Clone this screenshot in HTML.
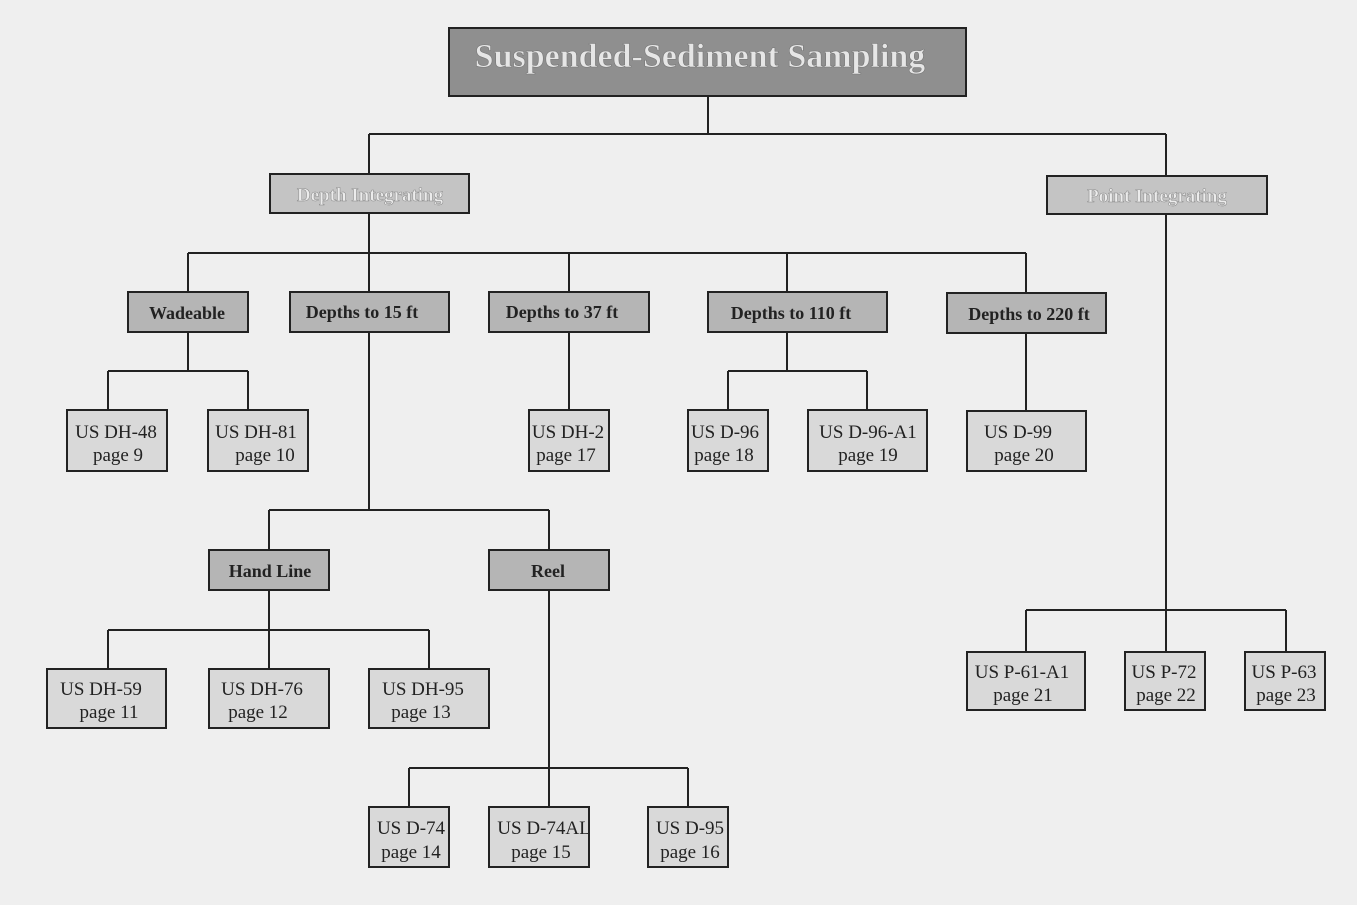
<!DOCTYPE html>
<html><head><meta charset="utf-8"><style>
html,body{margin:0;padding:0;background:#efefef;}
svg{display:block;}
text{font-family:"Liberation Serif",serif;text-anchor:middle;}
</style></head><body>
<svg width="1357" height="905" viewBox="0 0 1357 905" xmlns="http://www.w3.org/2000/svg">
<rect width="1357" height="905" fill="#efefef"/>
<g stroke="#222" stroke-width="2" fill="none">
<path d="M708 96V134M369 134H1166M369 134V174M1166 134V176"/>
<path d="M369 213V253M188 253H1026M188 253V292M369 253V292M569 253V292M787 253V292M1026 253V293"/>
<path d="M188 332V371M108 371H248M108 371V410M248 371V410"/>
<path d="M569 332V410"/>
<path d="M787 332V371M728 371H867M728 371V410M867 371V410"/>
<path d="M1026 333V411"/>
<path d="M369 332V510M269 510H549M269 510V550M549 510V550"/>
<path d="M269 590V630M108 630H429M108 630V669M269 630V669M429 630V669"/>
<path d="M549 590V768M409 768H688M409 768V807M549 768V807M688 768V807"/>
<path d="M1166 214V610M1026 610H1286M1026 610V652M1166 610V652M1286 610V652"/>
</g>
<g stroke="#222" stroke-width="2">
<rect x="449" y="28" width="517" height="68" fill="#8f8f8f"/>
<rect x="270" y="174" width="199" height="39" fill="#c4c4c4"/>
<rect x="1047" y="176" width="220" height="38" fill="#c4c4c4"/>
<g fill="#b5b5b5">
<rect x="128" y="292" width="120" height="40"/>
<rect x="290" y="292" width="159" height="40"/>
<rect x="489" y="292" width="160" height="40"/>
<rect x="708" y="292" width="179" height="40"/>
<rect x="947" y="293" width="159" height="40"/>
<rect x="209" y="550" width="120" height="40"/>
<rect x="489" y="550" width="120" height="40"/>
</g>
<g fill="#d9d9d9">
<rect x="67" y="410" width="100" height="61"/>
<rect x="208" y="410" width="100" height="61"/>
<rect x="529" y="410" width="80" height="61"/>
<rect x="688" y="410" width="80" height="61"/>
<rect x="808" y="410" width="119" height="61"/>
<rect x="967" y="411" width="119" height="60"/>
<rect x="47" y="669" width="119" height="59"/>
<rect x="209" y="669" width="120" height="59"/>
<rect x="369" y="669" width="120" height="59"/>
<rect x="369" y="807" width="80" height="60"/>
<rect x="489" y="807" width="100" height="60"/>
<rect x="648" y="807" width="80" height="60"/>
<rect x="967" y="652" width="118" height="58"/>
<rect x="1125" y="652" width="80" height="58"/>
<rect x="1245" y="652" width="80" height="58"/>
</g>
</g>
<text x="700" y="67" font-size="34" font-weight="bold" fill="#e6e6e6" stroke="#777" stroke-width="0.6">Suspended-Sediment Sampling</text>
<text x="370" y="201" font-size="19" font-weight="bold" fill="#ececec" stroke="#888" stroke-width="0.5">Depth Integrating</text>
<text x="1157" y="202" font-size="19" font-weight="bold" fill="#ececec" stroke="#888" stroke-width="0.5">Point Integrating</text>
<g font-size="18" font-weight="bold" fill="#222">
<text x="187" y="319">Wadeable</text>
<text x="362" y="318">Depths to 15 ft</text>
<text x="562" y="318">Depths to 37 ft</text>
<text x="791" y="319">Depths to 110 ft</text>
<text x="1029" y="320">Depths to 220 ft</text>
<text x="270" y="577">Hand Line</text>
<text x="548" y="577">Reel</text>
</g>
<g font-size="19" fill="#222">
<text x="116" y="438">US DH-48</text><text x="118" y="461">page 9</text>
<text x="256" y="438">US DH-81</text><text x="265" y="461">page 10</text>
<text x="568" y="438">US DH-2</text><text x="566" y="461">page 17</text>
<text x="725" y="438">US D-96</text><text x="724" y="461">page 18</text>
<text x="868" y="438">US D-96-A1</text><text x="868" y="461">page 19</text>
<text x="1018" y="438">US D-99</text><text x="1024" y="461">page 20</text>
<text x="101" y="695">US DH-59</text><text x="109" y="718">page 11</text>
<text x="262" y="695">US DH-76</text><text x="258" y="718">page 12</text>
<text x="423" y="695">US DH-95</text><text x="421" y="718">page 13</text>
<text x="411" y="834">US D-74</text><text x="411" y="858">page 14</text>
<text x="544" y="834">US D-74AL</text><text x="541" y="858">page 15</text>
<text x="690" y="834">US D-95</text><text x="690" y="858">page 16</text>
<text x="1022" y="678">US P-61-A1</text><text x="1023" y="701">page 21</text>
<text x="1164" y="678">US P-72</text><text x="1166" y="701">page 22</text>
<text x="1284" y="678">US P-63</text><text x="1286" y="701">page 23</text>
</g>
</svg>
</body></html>
